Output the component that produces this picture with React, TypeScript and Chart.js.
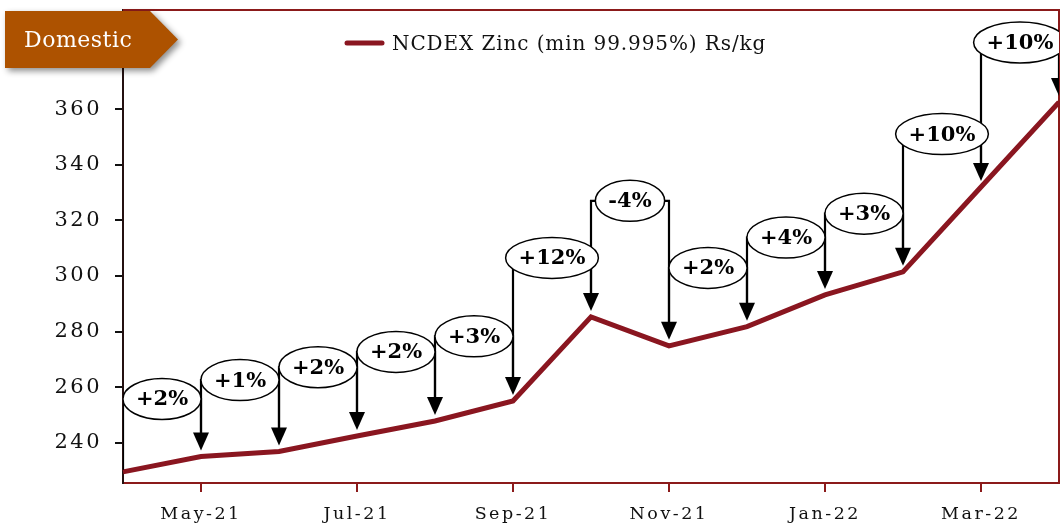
import React, { useEffect, useRef } from 'react';
import { Chart, registerables } from 'chart.js';

Chart.register(...registerables);

const months = ['Apr-21', 'May-21', 'Jun-21', 'Jul-21', 'Aug-21', 'Sep-21', 'Oct-21', 'Nov-21', 'Dec-21', 'Jan-22', 'Feb-22', 'Mar-22', 'Apr-22'];
const zincPrices = [229.6, 235.1, 236.9, 242.5, 247.9, 255.1, 285.3, 274.9, 281.8, 293.2, 301.5, 332.0, 362.5];
const changeLabels = ['+2%', '+1%', '+2%', '+2%', '+3%', '+12%', '-4%', '+2%', '+4%', '+3%', '+10%', '+10%'];
const bubbleLevels = [255.8, 262.6, 267.2, 272.7, 278.3, 306.5, 327.0, 302.9, 313.8, 322.4, 351.0, 383.9];
const yTicks = [240, 260, 280, 300, 320, 340, 360];
const seriesLabel = 'NCDEX Zinc (min 99.995%) Rs/kg';
const badgeText = 'Domestic';

const FONT = '"DejaVu Serif", "Liberation Serif", serif';
const RED = '#8a1620';
const FRAME = '#8b1a1a';

export default function App() {
  const ref = useRef<HTMLCanvasElement>(null);

  useEffect(() => {
    const canvas = ref.current;
    if (!canvas) return;

    const spacingPlugin = {
      id: 'spacing',
      beforeDraw(chart: any) {
        chart.ctx.letterSpacing = '2.5px';
      },
      beforeDatasetsDraw(chart: any) {
        const { ctx, chartArea: a } = chart;
        ctx.letterSpacing = '0px';
        ctx.save();
        ctx.strokeStyle = FRAME;
        ctx.lineWidth = 2;
        ctx.beginPath();
        ctx.moveTo(a.left, a.top);
        ctx.lineTo(a.right, a.top);
        ctx.lineTo(a.right, a.bottom);
        ctx.stroke();
        ctx.restore();
      },
    };

    const calloutPlugin = {
      id: 'callouts',
      afterDatasetsDraw(chart: any) {
        const { ctx, chartArea: a, scales } = chart;
        const x = scales.x;
        const y = scales.y;
        const gap = 6;
        const headH = 18;
        const headW = 16;
        ctx.save();
        ctx.beginPath();
        ctx.rect(a.left, a.top, a.right - a.left, a.bottom - a.top);
        ctx.clip();
        ctx.strokeStyle = '#000';
        ctx.fillStyle = '#000';
        ctx.lineWidth = 2.2;
        changeLabels.forEach((_, k) => {
          const x0 = x.getPixelForValue(k);
          const x1 = x.getPixelForValue(k + 1);
          const cy = y.getPixelForValue(bubbleLevels[k]);
          const tip0 = y.getPixelForValue(zincPrices[k]) - gap;
          const tip1 = y.getPixelForValue(zincPrices[k + 1]) - gap;
          const leftEnd = k === 0 ? y.getPixelForValue(zincPrices[k]) - 2 : tip0 - headH + 2;
          ctx.beginPath();
          ctx.moveTo(x0, leftEnd);
          ctx.lineTo(x0, cy);
          ctx.lineTo(x1, cy);
          ctx.lineTo(x1, tip1 - headH + 2);
          ctx.stroke();
          ctx.beginPath();
          ctx.moveTo(x1 - headW / 2, tip1 - headH);
          ctx.lineTo(x1 + headW / 2, tip1 - headH);
          ctx.lineTo(x1, tip1);
          ctx.closePath();
          ctx.fill();
        });
        ctx.font = `bold 21px ${FONT}`;
        ctx.textAlign = 'center';
        ctx.textBaseline = 'middle';
        changeLabels.forEach((lab, k) => {
          const x0 = x.getPixelForValue(k);
          const x1 = x.getPixelForValue(k + 1);
          const cx = (x0 + x1) / 2;
          const cy = y.getPixelForValue(bubbleLevels[k]);
          const w = ctx.measureText(lab).width + 26;
          const h = 41;
          ctx.beginPath();
          ctx.ellipse(cx, cy, w / 2, h / 2, 0, 0, Math.PI * 2);
          ctx.fillStyle = '#fff';
          ctx.fill();
          ctx.lineWidth = 1.5;
          ctx.strokeStyle = '#000';
          ctx.stroke();
          ctx.fillStyle = '#000';
          ctx.fillText(lab, cx, cy + 1);
        });
        ctx.restore();
      },
    };

    const overlayPlugin = {
      id: 'overlay',
      afterDraw(chart: any) {
        const { ctx } = chart;
        const ds = chart.data.datasets[0];
        // legend
        ctx.save();
        ctx.strokeStyle = ds.borderColor;
        ctx.lineWidth = 5;
        ctx.lineCap = 'round';
        ctx.beginPath();
        ctx.moveTo(347, 43);
        ctx.lineTo(382, 43);
        ctx.stroke();
        ctx.fillStyle = '#111';
        ctx.font = `20px ${FONT}`;
        ctx.letterSpacing = '0.9px';
        ctx.textAlign = 'left';
        ctx.textBaseline = 'middle';
        ctx.fillText(ds.label, 392, 45);
        ctx.restore();

        // badge
        ctx.save();
        ctx.shadowColor = 'rgba(0,0,0,0.45)';
        ctx.shadowBlur = 6;
        ctx.shadowOffsetX = 3;
        ctx.shadowOffsetY = 3;
        ctx.fillStyle = '#ad5200';
        ctx.beginPath();
        ctx.moveTo(5, 11);
        ctx.lineTo(150, 11);
        ctx.lineTo(178, 39.5);
        ctx.lineTo(150, 68);
        ctx.lineTo(5, 68);
        ctx.closePath();
        ctx.fill();
        ctx.restore();
        ctx.save();
        ctx.fillStyle = '#fff';
        ctx.font = `22px ${FONT}`;
        ctx.letterSpacing = '0.5px';
        ctx.textAlign = 'left';
        ctx.textBaseline = 'middle';
        ctx.fillText(badgeText, 24, 41);
        ctx.restore();
      },
    };

    const chart = new Chart(canvas, {
      type: 'line',
      data: {
        labels: months,
        datasets: [
          {
            label: seriesLabel,
            data: zincPrices,
            borderColor: RED,
            backgroundColor: RED,
            borderWidth: 5,
            pointRadius: 0,
            tension: 0,
          },
        ],
      },
      options: {
        animation: false,
        responsive: false,
        layout: { padding: { top: 10, right: 1, left: 0, bottom: 0 } },
        plugins: {
          legend: { display: false },
          tooltip: { enabled: false },
        },
        scales: {
          x: {
            type: 'category',
            offset: false,
            afterBuildTicks: (scale: any) => {
              scale.ticks = scale.ticks.filter((t: any) => t.value % 2 === 1);
            },
            afterFit: (scale: any) => {
              scale.height = 42;
              scale.paddingLeft = 0;
              scale.paddingRight = 0;
            },
            grid: {
              drawOnChartArea: false,
              drawTicks: true,
              tickLength: 9,
              color: FRAME,
              lineWidth: 2,
            },
            border: { display: true, color: FRAME, width: 2 },
            ticks: {
              autoSkip: false,
              maxRotation: 0,
              padding: 12,
              color: '#111',
              font: { family: FONT, size: 17.5 },
            },
          },
          y: {
            type: 'linear',
            min: 225.6,
            max: 395.6,
            afterBuildTicks: (scale: any) => {
              scale.ticks = yTicks.map((v) => ({ value: v }));
            },
            afterFit: (scale: any) => {
              scale.width = 123;
              scale.paddingTop = 0;
              scale.paddingBottom = 0;
            },
            grid: {
              drawOnChartArea: false,
              drawTicks: true,
              tickLength: 8,
              color: '#111',
              lineWidth: 2,
            },
            border: { display: true, color: '#241010', width: 2 },
            ticks: {
              padding: 13,
              color: '#111',
              font: { family: FONT, size: 21 },
            },
          },
        },
      },
      plugins: [spacingPlugin, calloutPlugin, overlayPlugin],
    });

    return () => chart.destroy();
  }, []);

  return (
    <div style={{ position: 'absolute', left: 0, top: 0, width: 1060, height: 525, background: '#fff' }}>
      <canvas ref={ref} width={1060} height={525} />
    </div>
  );
}
